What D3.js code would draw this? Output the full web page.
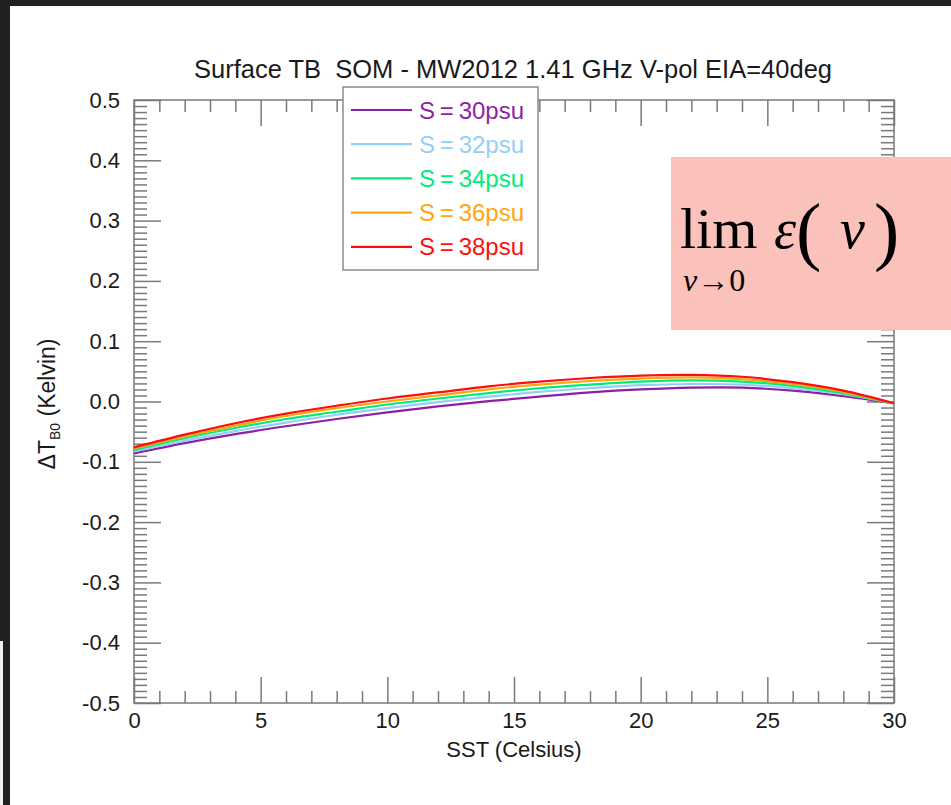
<!DOCTYPE html>
<html>
<head>
<meta charset="utf-8">
<script src="https://cdn.jsdelivr.net/npm/d3@7"></script>
<style>
  html, body { margin: 0; padding: 0; background: #212121; }
  svg { display: block; }
  text { font-family: "Liberation Sans", Arial, Helvetica, sans-serif; }
</style>
</head>
<body>
<div id="chart"></div>
<script>
// SST grid (Celsius)
var sst = [0, 2, 4, 6, 8, 10, 12, 14, 16, 18, 20, 22, 24, 26, 28, 30];

// delta TB0 (Kelvin) for each salinity
var s30 = [-0.086, -0.069, -0.054, -0.041, -0.029, -0.018, -0.008, 0.0005, 0.008, 0.015, 0.020, 0.023, 0.023, 0.018, 0.009, -0.003];
var s32 = [-0.083, -0.065, -0.049, -0.035, -0.022, -0.011, -0.001, 0.008, 0.016, 0.022, 0.027, 0.029, 0.028, 0.022, 0.012, -0.003];
var s34 = [-0.0805, -0.061, -0.044, -0.029, -0.017, -0.005, 0.005, 0.014, 0.022, 0.028, 0.033, 0.035, 0.033, 0.026, 0.014, -0.003];
var s36 = [-0.078, -0.058, -0.040, -0.024, -0.011, 0.000, 0.010, 0.020, 0.028, 0.034, 0.038, 0.040, 0.037, 0.029, 0.016, -0.003];
var s38 = [-0.076, -0.055, -0.036, -0.020, -0.007, 0.005, 0.015, 0.025, 0.033, 0.039, 0.043, 0.044, 0.041, 0.032, 0.018, -0.003];

var seriesNames = ["S\u2009=\u200930psu", "S\u2009=\u200932psu", "S\u2009=\u200934psu", "S\u2009=\u200936psu", "S\u2009=\u200938psu"];
var seriesValues = [s30, s32, s34, s36, s38];
var seriesColors = ["#8e1fa3", "#93cff7", "#00ec78", "#ffa60d", "#ff0d0d"];

var xTicks = [0, 5, 10, 15, 20, 25, 30];
var xTickLabels = ["0", "5", "10", "15", "20", "25", "30"];
var yTicks = [-0.5, -0.4, -0.3, -0.2, -0.1, 0, 0.1, 0.2, 0.3, 0.4, 0.5];
var yTickLabels = ["-0.5", "-0.4", "-0.3", "-0.2", "-0.1", "0.0", "0.1", "0.2", "0.3", "0.4", "0.5"];

var width = 951, height = 805;

var svg = d3.select("#chart").append("svg")
    .attr("width", width)
    .attr("height", height);

// dark frame around the white page
svg.append("rect").attr("width", width).attr("height", height).style("fill", "#212121");
svg.append("rect").attr("x", 10).attr("y", 6).attr("width", width - 10).attr("height", height - 6).style("fill", "#ffffff");
svg.append("rect").attr("x", 0).attr("y", 641).attr("width", 3).attr("height", height - 641).style("fill", "#efefef");

var x = d3.scaleLinear().domain([0, 30]).range([134, 894]);
var y = d3.scaleLinear().domain([-0.5, 0.5]).range([703, 100]);

var axisColor = "#7a7a7a";

function styleAxis(g) {
    g.select(".domain").remove();
    g.selectAll(".tick line").style("stroke", axisColor).style("stroke-width", 1.5);
    g.selectAll(".tick text").style("fill", "#1a1a1a").style("font-size", "22px")
        .style("font-family", "'Liberation Sans', Arial, sans-serif");
}

// minor ticks
var xMinor = d3.range(0, 31).filter(function (d) { return d % 5 != 0; });
var yMinor = d3.range(-50, 51).filter(function (d) { return d % 10 != 0; }).map(function (d) { return d / 100; });

svg.append("g").attr("transform", "translate(0,703)")
    .call(d3.axisBottom(x).tickValues(xMinor).tickSize(-12).tickFormat(""))
    .call(styleAxis);
svg.append("g").attr("transform", "translate(0,100)")
    .call(d3.axisTop(x).tickValues(xMinor).tickSize(-12).tickFormat(""))
    .call(styleAxis);
svg.append("g").attr("transform", "translate(134,0)")
    .call(d3.axisLeft(y).tickValues(yMinor).tickSize(-13).tickFormat(""))
    .call(styleAxis);
svg.append("g").attr("transform", "translate(894,0)")
    .call(d3.axisRight(y).tickValues(yMinor).tickSize(-13).tickFormat(""))
    .call(styleAxis);

// major ticks + labels
svg.append("g").attr("transform", "translate(0,703)")
    .call(d3.axisBottom(x).tickValues(xTicks).tickSize(-26).tickPadding(9)
        .tickFormat(function (d, i) { return xTickLabels[i]; }))
    .call(styleAxis);
svg.append("g").attr("transform", "translate(0,100)")
    .call(d3.axisTop(x).tickValues(xTicks).tickSize(-26).tickFormat(""))
    .call(styleAxis);
svg.append("g").attr("transform", "translate(134,0)")
    .call(d3.axisLeft(y).tickValues(yTicks).tickSize(-27).tickPadding(14)
        .tickFormat(function (d, i) { return yTickLabels[i]; }))
    .call(styleAxis);
svg.append("g").attr("transform", "translate(894,0)")
    .call(d3.axisRight(y).tickValues(yTicks).tickSize(-27).tickFormat(""))
    .call(styleAxis);

// plot frame
svg.append("rect")
    .attr("x", x(0)).attr("y", y(0.5))
    .attr("width", x(30) - x(0)).attr("height", y(-0.5) - y(0.5))
    .style("fill", "none").style("stroke", axisColor).style("stroke-width", 1.5);

// curves
var line = d3.line()
    .x(function (d, i) { return x(sst[i]); })
    .y(function (d) { return y(d); })
    .curve(d3.curveCatmullRom);

svg.append("g").selectAll("path")
    .data(seriesValues)
    .enter()
    .append("path")
    .attr("d", line)
    .style("fill", "none")
    .style("stroke", function (d, i) { return seriesColors[i]; })
    .style("stroke-width", 2.2);

// title and axis titles
svg.append("text")
    .attr("x", 513).attr("y", 78)
    .attr("text-anchor", "middle")
    .attr("xml:space", "preserve")
    .style("font-size", "25.5px").style("fill", "#1a1a1a")
    .text("Surface TB  SOM - MW2012 1.41 GHz V-pol EIA=40deg");

svg.append("text")
    .attr("x", 514).attr("y", 757)
    .attr("text-anchor", "middle")
    .style("font-size", "22px").style("fill", "#1a1a1a")
    .text("SST (Celsius)");

var yTitle = svg.append("text")
    .attr("transform", "translate(55,404) rotate(-90)")
    .attr("text-anchor", "middle")
    .style("font-size", "23px").style("fill", "#1a1a1a");
yTitle.append("tspan").text("\u0394T");
yTitle.append("tspan").attr("dy", 5).style("font-size", "14px").text("B0");
yTitle.append("tspan").attr("dy", -5).text(" (Kelvin)");

// legend
var legend = svg.append("g");
legend.append("rect")
    .attr("x", 343).attr("y", 87).attr("width", 195).attr("height", 183)
    .style("fill", "#ffffff").style("stroke", "#8a8a8a").style("stroke-width", 1.5);

var rows = legend.selectAll("g.row")
    .data(seriesNames)
    .enter()
    .append("g")
    .attr("class", "row")
    .attr("transform", function (d, i) { return "translate(0," + (110 + i * 34.2) + ")"; });
rows.append("line")
    .attr("x1", 351).attr("x2", 412)
    .style("stroke", function (d, i) { return seriesColors[i]; })
    .style("stroke-width", 2.2);
rows.append("text")
    .attr("x", 419).attr("y", 8.5)
    .style("font-size", "24px")
    .style("fill", function (d, i) { return seriesColors[i]; })
    .text(function (d) { return d; });

// pink box with the formula
svg.append("rect")
    .attr("x", 671).attr("y", 157).attr("width", 290).attr("height", 173)
    .style("fill", "#fbc1bb");

var serif = "'Liberation Serif', 'Times New Roman', serif";
var formula = svg.append("text")
    .style("font-family", serif).style("fill", "#000");
formula.append("tspan").attr("x", 680).attr("y", 248).style("font-size", "58px").text("lim");
formula.append("tspan").attr("x", 774).attr("y", 248).style("font-size", "56px").style("font-style", "italic").text("\u03b5");
formula.append("tspan").attr("x", 796).attr("y", 256).style("font-size", "76px").text("(");
formula.append("tspan").attr("x", 840).attr("y", 248).style("font-size", "56px").style("font-style", "italic").text("\u03bd");
formula.append("tspan").attr("x", 874).attr("y", 256).style("font-size", "76px").text(")");
formula.append("tspan").attr("x", 683).attr("y", 291).style("font-size", "32px").style("font-style", "italic").text("\u03bd");
formula.append("tspan").style("font-size", "32px").text("\u2192");
formula.append("tspan").style("font-size", "32px").text("0");
</script>
</body>
</html>
